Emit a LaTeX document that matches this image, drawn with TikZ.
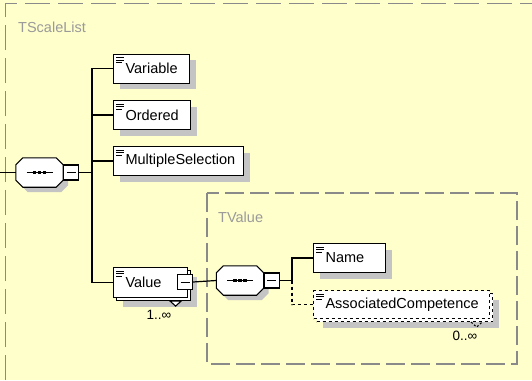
\documentclass[tikz,border=0pt]{standalone}
\usepackage{fontspec}
\setmainfont{Liberation Sans}
\usetikzlibrary{shadows}
\definecolor{bg}{HTML}{FFFFCC}
\definecolor{shgray}{HTML}{C4C4C4}
\definecolor{framegray}{HTML}{8A8A8A}
\definecolor{titlegray}{HTML}{9A9A9A}
\newcommand\myoctopath[2]{([xshift=7pt#2]#1.north west) -- ([xshift=-7pt#2]#1.north east) -- ([yshift=-7pt#2]#1.north east) -- ([yshift=7pt#2]#1.south east) -- ([xshift=-7pt#2]#1.south east) -- ([xshift=7pt#2]#1.south west) -- ([yshift=7pt#2]#1.south west) -- ([yshift=-7pt#2]#1.north west) -- cycle}
\newcommand\myocto[1]{%
  \fill[shgray] \myoctopath{#1}{,shift={(5pt,-5pt)}};
  \draw[line width=1.1pt, fill=white] \myoctopath{#1}{};
  \draw[line width=1.2pt] ([xshift=-13pt]#1.center) -- ([xshift=13pt]#1.center);
  \foreach \d in {-5,0,5} \fill ([xshift=\d pt]#1.center) ++(-1.7,-1.7) rectangle ++(3.4,3.4);
}
\tikzset{
  shad/.style={drop shadow={shadow xshift=6pt,shadow yshift=-6pt,fill=shgray,opacity=1}},
  elem/.style={draw=black, line width=1.1pt, fill=white, minimum height=29pt,
    inner xsep=12pt, inner ysep=0pt, anchor=north west, align=left,
    font=\fontsize{14.5}{16}\selectfont},
  backbox/.style={draw=black, line width=1.1pt, fill=white, anchor=north west, inner sep=0pt},
  compos/.style={rectangle, minimum width=47pt, minimum height=29pt, inner sep=0pt},
  minusbox/.style={draw=black, fill=white, minimum size=15pt, inner sep=0pt, line width=1.1pt,
    path picture={\draw[line width=1pt] ([xshift=3pt]path picture bounding box.west) -- ([xshift=-3pt]path picture bounding box.east);}},
  conn/.style={line width=1.2pt, black},
  frame/.style={draw=framegray, line width=1.4pt, dash pattern=on 25pt off 8pt},
  innerframe/.style={draw=framegray, line width=1.2pt, dash pattern=on 19pt off 6pt},
  title/.style={text=titlegray, font=\fontsize{14.5}{16}\selectfont, anchor=base west, inner sep=0pt},
  mult/.style={font=\fontsize{13.5}{15}\selectfont, inner sep=0pt},
}
\begin{document}
\begin{tikzpicture}[x=1pt,y=-1pt]
\useasboundingbox (0,0) rectangle (532,380);
\fill[bg] (0,0) rectangle (532,380);
% outer frame
\draw[frame] (5.5,380) -- (5.5,3.5) -- (532,3.5);
\node[title] (t1) at (18,32) {TScaleList};
% inner frame
\draw[innerframe] (207,193) rectangle (517,364);
\node[title] (t2) at (218,222) {TValue};

% outer sequence
\node[compos] (seq1) at (39.5,172.5) {};
\myocto{seq1}
\node[minusbox, anchor=west] (seq1m) at (seq1.east) {};
\coordinate (in1) at (0,172.5);
\coordinate (bus1) at (92,172.5);
\draw[conn] (in1) -- (seq1.west);
\draw[conn] (seq1m.east) -- (bus1);

% elements
\node[elem, shad, minimum width=76pt, text width=52pt] (var) at (113,53.5) {Variable};
\node[elem, shad, minimum width=77pt, text width=53pt] (ord) at (113,100) {Ordered};
\node[elem, shad, minimum width=130pt, text width=106pt] (ms) at (113,146) {MultipleSelection};
% Value stacked
\node[backbox, shad, minimum width=74pt, minimum height=30pt] (valb) at (116,270) {};
\node[elem, minimum width=74pt, minimum height=30pt, text width=50pt] (val) at (113,267) {Value};
\draw[line width=1.1pt, fill=white] ([xshift=-21pt]valb.south east) -- ([xshift=-10pt]valb.south east) -- ([xshift=-15.5pt,yshift=-5pt]valb.south east) -- cycle;
\node[minusbox] (valm) at (185,282) {};
\node[mult] (m1) at (159,315) {1..∞};

\foreach \n in {var,ord,ms,val}
  \draw[line width=1pt] ([shift={(3,4)}]\n.north west) -- ++(8,0)
    ([shift={(3,6.5)}]\n.north west) -- ++(8,0)
    ([shift={(3,9)}]\n.north west) -- ++(6,0);

\draw[conn] (bus1) |- (var.west);
\draw[conn] (bus1) |- (ord.west);
\draw[conn] (bus1) |- (ms.west);
\draw[conn] (bus1) |- (val.west);

% inner sequence
\node[compos] (seq2) at (240,280.5) {};
\myocto{seq2}
\node[minusbox, anchor=west] (seq2m) at (seq2.east) {};
\coordinate (bus2) at (292,280.5);
\draw[conn] (valm.east) -- (seq2.west);
\draw[conn] (seq2m.east) -- (bus2);

\node[elem, shad, minimum width=72pt, text width=48pt] (name) at (313,243) {Name};
\node[backbox, dashed, shad, minimum width=176pt, minimum height=28pt] (acb) at (316,293) {};
\node[elem, dashed, minimum width=176pt, minimum height=28pt, text width=152pt] (ac) at (313,290) {AssociatedCompetence};
\draw[line width=1.1pt, dash pattern=on 2pt off 2pt] ([xshift=-22pt]acb.south east) -- ([xshift=-16.5pt,yshift=-5pt]acb.south east) -- ([xshift=-11pt]acb.south east);
\node[mult] (m2) at (465,336) {0..∞};

\foreach \n in {name,ac}
  \draw[line width=1pt] ([shift={(3,4)}]\n.north west) -- ++(8,0)
    ([shift={(3,6.5)}]\n.north west) -- ++(8,0)
    ([shift={(3,9)}]\n.north west) -- ++(6,0);

\draw[conn] (bus2) |- (name.west);
\draw[conn, dashed] (bus2) |- (ac.west);
\end{tikzpicture}
\end{document}
